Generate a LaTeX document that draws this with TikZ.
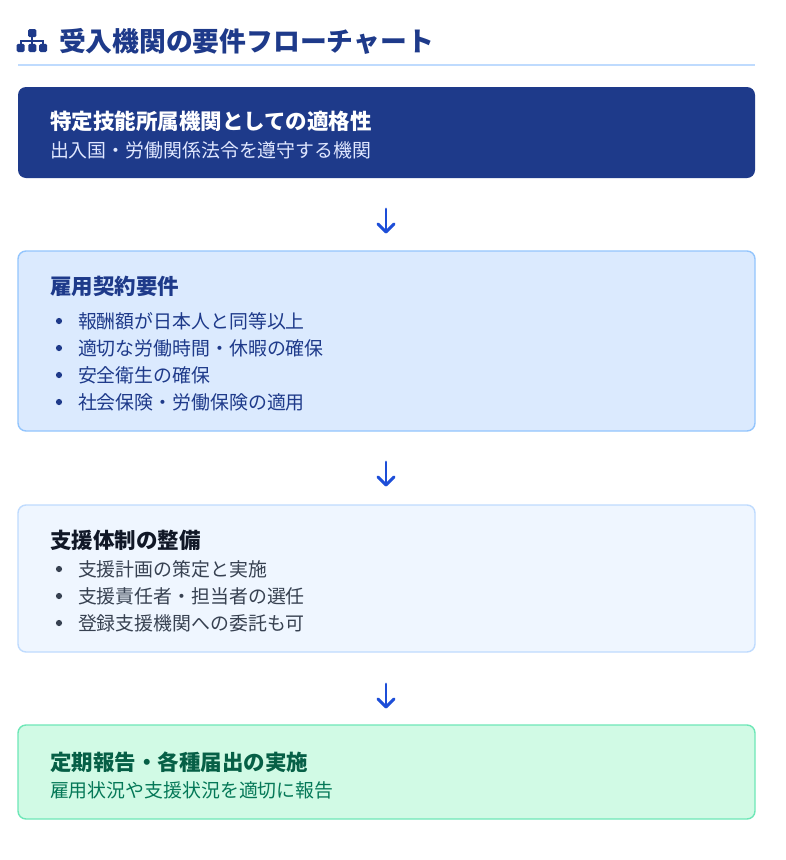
\documentclass[tikz,border=0pt]{standalone}
\usepackage{fontspec}
\setmainfont{Noto Sans CJK JP}
\usetikzlibrary{calc}
\definecolor{navy}{HTML}{1E3A8A}
\definecolor{titleline}{HTML}{BFDBFE}
\definecolor{arrowblue}{HTML}{1D4ED8}
\definecolor{boxtwofill}{HTML}{DBEAFE}
\definecolor{boxtwoline}{HTML}{93C5FD}
\definecolor{boxthreefill}{HTML}{EFF6FF}
\definecolor{boxthreeline}{HTML}{BFDBFE}
\definecolor{boxfourfill}{HTML}{D1FAE5}
\definecolor{boxfourline}{HTML}{6EE7B7}
\definecolor{greentitle}{HTML}{065F46}
\definecolor{greentext}{HTML}{047857}
\definecolor{darktext}{HTML}{111827}
\definecolor{graytext}{HTML}{374151}
\definecolor{subwhite}{HTML}{E0E7FF}
\tikzset{
  card/.style={rounded corners=8pt, line width=1.4pt},
  lbl/.style={anchor=base west, inner sep=0pt, outer sep=0pt},
  cardtitle/.style={lbl, font=\fontsize{21.5}{24}\selectfont\bfseries},
  cardtext/.style={lbl, font=\fontsize{18.9}{22}\selectfont},
  flowarrow/.style={draw=arrowblue, line width=2.9pt, line cap=round, line join=round},
  dot/.style={circle, inner sep=0pt, minimum size=6.2pt}
}
\begin{document}
\begin{tikzpicture}[x=1pt,y=-1pt]
\useasboundingbox (0,0) rectangle (786,860);
\fill[white] (0,0) rectangle (786,860);

% header icon (sitemap)
\begin{scope}[navy]
\fill[rounded corners=1.5pt] (28.2,29) rectangle (36.4,37.2);
\fill (31.3,36) rectangle (33.3,41);
\fill (19.6,39.6) rectangle (44.2,41.8);
\fill (19.6,40) rectangle (21.6,45);
\fill (31.3,40) rectangle (33.3,45);
\fill (42.2,40) rectangle (44.2,45);
\fill[rounded corners=1.5pt] (16.6,43.8) rectangle (24.6,52);
\fill[rounded corners=1.5pt] (28.3,43.8) rectangle (36.3,52);
\fill[rounded corners=1.5pt] (39.2,43.8) rectangle (47.2,52);
\end{scope}
\node[lbl, text=navy, font=\fontsize{26.8}{30}\selectfont\bfseries] (title) at (59,51) {受入機関の要件フローチャート};
\draw[titleline, line width=2pt] (18,64.5) -- (755,64.5);

% box 1
\path[card, fill=navy] (18,87) rectangle (755,178);
\node[cardtitle, text=white] (b1t) at (50,129) {特定技能所属機関としての適格性};
\node[cardtext, text=subwhite] (b1s) at (50,157) {出入国・労働関係法令を遵守する機関};

% box 2
\path[card, fill=boxtwofill, draw=boxtwoline] (18,251) rectangle (755,431);
\node[cardtitle, text=navy] (b2t) at (50,294) {雇用契約要件};
\foreach \yy/\tx [count=\i] in {321/報酬額が日本人と同等以上, 348/適切な労働時間・休暇の確保, 375/安全衛生の確保, 402/社会保険・労働保険の適用}{
  \node[dot, fill=navy] (b2d\i) at (59,\yy) {};
  \node[cardtext, text=navy] (b2l\i) at (78,\yy+7) {\tx};
}

% box 3
\path[card, fill=boxthreefill, draw=boxthreeline] (18,505) rectangle (755,652);
\node[cardtitle, text=darktext] (b3t) at (50,548) {支援体制の整備};
\foreach \yy/\tx [count=\i] in {569/支援計画の策定と実施, 596/支援責任者・担当者の選任, 623/登録支援機関への委託も可}{
  \node[dot, fill=graytext] (b3d\i) at (59,\yy) {};
  \node[cardtext, text=graytext] (b3l\i) at (78,\yy+7) {\tx};
}

% box 4
\path[card, fill=boxfourfill, draw=boxfourline] (18,725) rectangle (755,819);
\node[cardtitle, text=greentitle] (b4t) at (50,770) {定期報告・各種届出の実施};
\node[cardtext, text=greentext] (b4s) at (50,797) {雇用状況や支援状況を適切に報告};

% arrows
\foreach \ys/\n in {209/1, 462/2, 684/3}{
  \coordinate (a\n s) at (386,\ys);
  \coordinate (a\n e) at (386,\ys+23);
  \coordinate (a\n l) at (378,\ys+15);
  \coordinate (a\n r) at (394,\ys+15);
  \draw[flowarrow] (a\n s) -- (a\n e);
  \draw[flowarrow] (a\n l) -- (a\n e) -- (a\n r);
}
\end{tikzpicture}
\end{document}
